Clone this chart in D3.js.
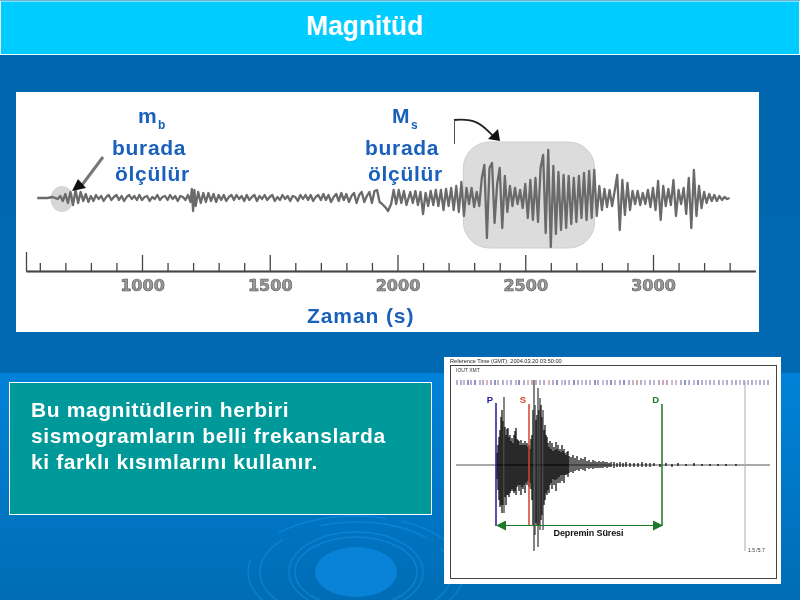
<!DOCTYPE html>
<html><head><meta charset="utf-8">
<script src="https://cdn.jsdelivr.net/npm/d3@7"></script>
<style>html,body{margin:0;padding:0;background:#0066aa}svg{display:block}</style>
</head><body><svg id="c" width="800" height="600"></svg>
<script>
// ---------- data ----------
const title = "Magnitüd";
const axisLabel = "Zaman (s)";
const majorTicks = [1000,1500,2000,2500,3000];
const minorTicks = [600,700,800,900,1100,1200,1300,1400,1600,1700,1800,1900,2100,2200,2300,2400,2600,2700,2800,2900,3100,3200,3300];
const traceTime = [590,610,630,650,670,680,690,700,710,720,
 730,740,750,760,770,780,790,800,810,820,830,840,850,860,870,
 880,890,900,910,920,930,940,950,960,970,980,990,1000,1010,1020,
 1030,1040,1050,1060,1070,1080,1090,1100,1110,1120,1130,1140,1150,1160,1170,
 1180,1190,1195,1200,1205,
 1210,1220,1230,1240,1250,1260,1270,1280,1290,1300,
 1310,1320,1330,1340,1350,1360,1370,1380,1390,1400,
 1410,1420,1430,1440,1450,1460,1470,1480,1490,1500,
 1510,1520,1530,1540,1550,1560,1570,1580,1590,1600,
 1610,1620,1630,1640,1650,1660,1670,1680,1690,1700,
 1710,1720,1730,1740,1750,1760,1770,1780,1790,1800,
 1810,1820,1830,1840,1850,1860,1870,1880,1890,1900,
 1910,1920,1930,1940,1955,1963,1975,1985,1995,2005,2015,2025,2035,
 2050,2060,2070,2080,2090,2100,2110,2120,2130,2140,
 2150,2160,2170,2180,2190,2200,2210,2220,2230,2240,
 2250,2260,2270,2280,2290,2300,2310,2320,2330,2340,
 2350,2360,2370,2380,2390,2400,2410,2420,2430,2440,
 2450,2460,2470,2480,2490,2500,2510,2520,2530,2540,
 2550,2560,2570,2580,2590,2600,2610,2620,2630,2640,
 2650,2660,2670,2680,2690,2700,2710,2720,2730,2740,
 2750,2760,2770,2780,2790,2800,2810,2820,2830,2840,
 2850,2860,2870,2880,2890,2900,2910,2920,2930,2940,
 2950,2960,2970,2980,2990,3000,3010,3020,3030,3040,
 3050,3060,3070,3080,3090,3100,3110,3120,3130,3140,
 3150,3160,3170,3180,3190,3200,3210,3220,3230,3240,
 3250,3260,3270,3280,3290,3300];
const traceAmp = [0,0,0,1,-1,2,-3,4,-5,6,
 -7,8,-5,6,-3,4,-4,2,-3,3,-1,2,-3,1,3,
 -2,1,3,-2,2,-3,1,3,-1,2,-2,3,-2,1,2,
 -3,1,-1,3,-2,1,2,-2,3,-1,2,-3,2,1,-2,
 3,-4,9,-13,8,
 -8,6,-5,5,-4,5,-3,4,-4,3,
 -2,3,-3,1,3,-2,3,-1,2,-3,
 3,-2,1,3,-3,2,-1,3,-2,1,
 3,-3,1,-2,3,-1,2,-3,2,1,
 -3,3,-1,3,-2,3,-3,1,3,-2,
 4,-2,3,-4,1,4,-3,5,-2,4,
 -4,2,5,-5,3,6,-4,2,6,-5,
 7,8,-4,-6,-10,-13,-6,8,-6,8,-5,7,-7,
 6,-5,7,-7,6,-16,5,-8,7,-7,
 8,-8,8,-12,9,-8,10,-12,12,-14,
 16,-18,10,-6,10,-9,6,-8,20,33,
 -40,30,35,-25,14,30,-30,22,-14,12,
 -8,10,-6,8,-10,14,-20,18,-22,20,
 -24,30,43,-35,48,-49,32,-36,26,-32,
 23,-30,22,-26,20,-24,22,-20,25,-22,
 27,-20,28,-18,12,-12,9,-9,8,-8,
 7,23,-32,18,-17,15,-12,7,-6,7,
 -7,5,-6,8,-9,10,-12,17,-22,12,
 -8,9,-7,18,-18,8,-6,10,-16,20,
 -30,28,-18,12,-10,6,-5,4,-3,3,
 -3,2,-2,1,-1,0];

const quakeOffset = [41,42,43,44,45,46,47,48,49,50,51,52,53,54,55,56,57,58,59,60,61,62,63,64,65,66,67,68,69,70,71,72,73,74,75,
 76,77,78,79,80,81,82,83,84,85,86,87,88,89,90,91,92,93,94,95,96,97,98,99,100,101,102,103,104,105,106,107,108,109,110,111,112,113,
 115,117,119,121,123,125,127,129,131,133,135,137,139,141,143,145,147,149,151,153,155,158,161,164,167,170,
 174,178,182,186,190,194,198,204,210,216,222,230,238,246,254,262,270,280,290,300];
const quakeHigh = [12,20,28,35,48,55,44,68,38,30,36,37,28,30,24,27,22,30,34,37,26,25,24,20,25,20,22,20,24,20,22,18,20,16,26,
 30,55,85,60,45,50,77,55,67,60,48,55,35,40,30,28,22,18,24,16,22,14,18,15,23,16,20,14,16,13,20,14,16,12,10,13,14,9,
 8,10,7,9,5,7,6,8,4,5,3,5,4,3,4,3,4,3,3,2,3,3,2,3,2,3,2,2,2,3,2,2,2,1,2,1,2,1,2,1,1,1,1,1];
const quakeLow = [14,25,35,42,40,48,40,48,32,40,30,30,32,28,26,24,26,28,26,30,22,20,26,20,30,22,24,20,28,18,20,16,22,18,24,
 35,60,86,70,58,60,82,60,65,55,50,65,40,35,28,30,25,28,20,18,24,14,20,15,26,14,18,12,18,10,16,10,18,10,10,9,12,8,
 7,8,6,5,6,4,5,6,3,4,3,4,3,3,3,3,3,2,3,2,2,3,2,2,2,2,2,2,2,2,2,2,1,2,1,2,1,1,1,1,1,1,1,1];
const stripOffset = [1,5,8,12,15,19,24,27,31,35,39,42,47,51,55,60,63,68,72,76,80,84,88,93,97,101,106,109,113,118,122,126,130,134,139,142,147,151,155,159,164,168,173,177,181,185,189,194,198,203,207,211,216,220,225,229,233,238,242,246,250,254,258,263,267,271,276,280,284,288,292,296,300,304,308,312];
const stripColor = ["#6a5aa8","#6a5aa8","#8a6a98","#23228a","#6a5aa8","#23228a","#8a6a98","#6a5aa8","#c86a6a","#6a5aa8","#23228a","#8a6a98","#6a5aa8","#8080b0","#6a5aa8","#8a6a98","#23228a","#6a5aa8","#8080b0","#c04a4a","#6a5aa8","#8a6a98","#6a5aa8","#c86a6a","#6a5aa8","#23228a","#8080b0","#6a5aa8","#8a6a98","#23228a","#6a5aa8","#8080b0","#6a5aa8","#8a6a98","#23228a","#6a5aa8","#8080b0","#6a5aa8","#23228a","#8a6a98","#6a5aa8","#23228a","#6a5aa8","#8a6a98","#c04040","#6a5aa8","#8080b0","#6a5aa8","#8a6a98","#6a5aa8","#c04a4a","#6a5aa8","#c86a6a","#8080b0","#6a5aa8","#23228a","#6a5aa8","#8a6a98","#23228a","#6a5aa8","#8080b0","#6a5aa8","#8a6a98","#6a5aa8","#8080b0","#6a5aa8","#8a6a98","#6a5aa8","#8080b0","#6a5aa8","#8a6a98","#6a5aa8","#8080b0","#6a5aa8","#8a6a98","#6a5aa8"];
const phaseNames = ["P","S","D"];
const phaseOffset = [40,73,206];
const phaseColor = ["#1a1a9c","#d2452a","#1a7a2a"];
const bodyLines = ["Bu magnitüdlerin herbiri","sismogramların belli frekanslarda","ki farklı kısımlarını kullanır."];
const ringRx = [41,61,67,96,108];
const ringRy = [25,35,40,50,56];

// ---------- layout ----------
const svg = d3.select("#c");
const defs = svg.append("defs");
const g1 = defs.append("linearGradient").attr("id","lower").attr("x1",0).attr("x2",0).attr("y1",0).attr("y2",1);
g1.append("stop").attr("offset",0).attr("stop-color","#0082d8");
g1.append("stop").attr("offset",1).attr("stop-color","#006db5");
const g2 = defs.append("linearGradient").attr("id","upper").attr("x1",0).attr("x2",0).attr("y1",0).attr("y2",1);
g2.append("stop").attr("offset",0).attr("stop-color","#0066ad");
g2.append("stop").attr("offset",1).attr("stop-color","#0069b1");
defs.append("filter").attr("id","soft2").append("feGaussianBlur").attr("stdDeviation",0.3);
defs.append("marker").attr("id","hd").attr("viewBox","0 0 10 10").attr("refX",9).attr("refY",5)
  .attr("markerWidth",14).attr("markerHeight",10).attr("markerUnits","userSpaceOnUse").attr("orient","auto-start-reverse")
  .append("path").attr("d","M0,0L10,5L0,10Z").attr("fill","#1a7a2a");

const sans = "'Liberation Sans',Arial,sans-serif";
svg.append("rect").attr("width",800).attr("height",374).attr("fill","url(#upper)");
svg.append("rect").attr("y",373).attr("width",800).attr("height",227).attr("fill","url(#lower)");

// ripples
const rip = svg.append("g").attr("transform","translate(356,572)");
rip.selectAll("ellipse").data(ringRx).join("ellipse")
  .attr("rx",d=>d).attr("ry",(d,i)=>ringRy[i])
  .attr("fill",(d,i)=>i==0?"#0a88de":"none")
  .attr("stroke","#1490e4").attr("stroke-width",(d,i)=>i==0?0:1.5).attr("opacity",(d,i)=>i==0?0.8:0.55)
  .attr("stroke-dasharray",(d,i)=>i>2?"110 16 150 40":null);

// header
svg.append("rect").attr("x",0.5).attr("y",1).attr("width",799).attr("height",53.5)
  .attr("fill","#00ccff").attr("stroke","#e8fbff");
svg.append("text").attr("x",306).attr("y",35).text(title)
  .attr("font-family",sans).attr("font-weight",700).attr("font-size",27)
  .attr("textLength",117).attr("lengthAdjust","spacingAndGlyphs").attr("fill","#fff");

// main panel
svg.append("rect").attr("x",16).attr("y",92).attr("width",743).attr("height",240).attr("fill","#fff");
const x = d3.scaleLinear().domain([546,3400]).range([26,755.2]);
const y = d3.scaleLinear().domain([-50,50]).range([248,148]);

const panel = svg.append("g").attr("filter","url(#soft2)");
panel.append("rect").attr("x",x(2250)+2).attr("y",142).attr("width",x(2760)-x(2250)+1).attr("height",106)
  .attr("rx",26).attr("fill","#dcdcdc").attr("stroke","#cfcfcf");
panel.append("ellipse").attr("cx",62).attr("cy",y(-1)).attr("rx",11.5).attr("ry",13).attr("fill","#d6d6d6");
panel.append("path").datum(traceAmp.map((a,i)=>[traceTime[i],a]))
  .attr("fill","none").attr("stroke","#6a6a6a").attr("stroke-width",2.3).attr("stroke-linejoin","round")
  .attr("d",d3.line().x(d=>x(d[0])).y(d=>y(d[1])));

// axis
const axisMajor = d3.axisBottom(x).tickValues(majorTicks).tickSizeInner(-16).tickSizeOuter(0).tickPadding(0).tickFormat(d3.format("d"));
const axisMinor = d3.axisBottom(x).tickValues(minorTicks).tickSizeInner(-8).tickSizeOuter(0).tickFormat("");
const aG = panel.append("g").attr("transform","translate(0,271)").call(axisMinor);
const bG = panel.append("g").attr("transform","translate(0,271)").call(axisMajor);
const aOrigin = d3.axisBottom(x).tickValues([546]).tickSizeInner(-19).tickSizeOuter(0).tickFormat("");
const oG = panel.append("g").attr("transform","translate(0,271)").call(aOrigin);
[aG,bG,oG].forEach(g=>{g.selectAll("path,line").attr("stroke","#444").attr("stroke-width",1.3);});
aG.select(".domain").attr("stroke","#666");
bG.selectAll("text").attr("y",20).attr("dy",0).attr("font-family","'DejaVu Sans',sans-serif").attr("font-weight",700)
  .attr("font-size",16).attr("fill","#999").attr("stroke","#555").attr("stroke-width",0.6);

// arrows
svg.append("line").attr("x1",103).attr("y1",157).attr("x2",82).attr("y2",185).attr("stroke","#777").attr("stroke-width",3);
svg.append("path").attr("d","M72,191L78,179L86,188Z").attr("fill","#111");
svg.append("path").attr("d","M454,120C475,118 482,124 494,137").attr("fill","none").attr("stroke","#222").attr("stroke-width",1.8);
svg.append("path").attr("d","M500,141L488,139L498,129Z").attr("fill","#111");
svg.append("line").attr("x1",454.5).attr("y1",120).attr("x2",454.5).attr("y2",144).attr("stroke","#555").attr("stroke-width",1);

// labels
const blue = "#1a60bd";
function lab(t,xx,yy,fs,ls){return svg.append("text").attr("x",xx).attr("y",yy).text(t).attr("font-family",sans)
  .attr("font-weight",700).attr("font-size",fs).attr("letter-spacing",ls||0).attr("fill",blue);}
lab("m",138,123,21); lab("b",158,129,12);
lab("M",392,123,21); lab("s",411,129,12);
lab("burada",112,155,21,0.7); lab("ölçülür",115,181,21,0.7);
lab("burada",365,155,21,0.7); lab("ölçülür",368,181,21,0.7);
lab(axisLabel,307,323,21,0.9);

// teal box
svg.append("rect").attr("x",9.5).attr("y",382.5).attr("width",422).attr("height",132).attr("fill","#009999").attr("stroke","#fff");
svg.selectAll("text.body").data(bodyLines).join("text").attr("class","body")
  .attr("x",31).attr("y",(d,i)=>417+i*26).text(d=>d).attr("font-family",sans)
  .attr("font-weight",700).attr("font-size",21).attr("letter-spacing",0.6).attr("fill","#fff");

// seismogram picture
svg.append("rect").attr("x",444).attr("y",357).attr("width",337).attr("height",227).attr("fill","#fff");
svg.append("rect").attr("x",450.5).attr("y",365.5).attr("width",326).attr("height",213).attr("fill","none").attr("stroke","#444");
const pic = svg.append("g").attr("filter","url(#soft2)");
const qx = d3.scaleLinear().domain([0,314]).range([456,770]);
const qy = d3.scaleLinear().domain([-90,90]).range([555,375]);
pic.append("text").attr("x",450).attr("y",363).text("Reference Time (GMT): 2004.03.20 03:50:00").attr("font-family",sans).attr("font-size",5.6).attr("fill","#222");
pic.append("text").attr("x",456).attr("y",372).text("IOUT XMT").attr("font-family",sans).attr("font-size",5).attr("fill","#333");
pic.append("text").attr("x",748).attr("y",552).text("1.5 /5.7").attr("font-family",sans).attr("font-size",5).attr("fill","#333");
pic.selectAll("line.s").data(stripOffset).join("line").attr("class","s")
  .attr("x1",d=>qx(d)).attr("x2",d=>qx(d)).attr("y1",380).attr("y2",385)
  .attr("stroke",(d,i)=>stripColor[i]).attr("stroke-width",1);
pic.append("line").attr("x1",qx(0)).attr("x2",qx(314)).attr("y1",qy(0)).attr("y2",qy(0)).attr("stroke","#555").attr("stroke-width",1.2);
pic.append("line").attr("x1",qx(289)).attr("x2",qx(289)).attr("y1",381).attr("y2",551).attr("stroke","#aaa");
pic.selectAll("line.q").data(quakeOffset).join("line").attr("class","q")
  .attr("x1",d=>qx(d)).attr("x2",d=>qx(d))
  .attr("y1",(d,i)=>qy(quakeHigh[i])).attr("y2",(d,i)=>qy(-quakeLow[i]))
  .attr("stroke",(d,i)=>(quakeHigh[i]>60||quakeLow[i]>60)?"#333":"#000").attr("stroke-width",1.2);
pic.selectAll("line.p").data(phaseOffset).join("line").attr("class","p")
  .attr("x1",d=>qx(d)).attr("x2",d=>qx(d)).attr("y1",(d,i)=>i==0?403:404).attr("y2",526)
  .attr("stroke",(d,i)=>phaseColor[i]).attr("stroke-width",1.5);
pic.selectAll("text.pn").data(phaseNames).join("text").attr("class","pn")
  .attr("x",(d,i)=>qx(phaseOffset[i])-3).attr("y",403).attr("text-anchor","end").text(d=>d)
  .attr("font-family",sans).attr("font-weight",700).attr("font-size",9.5).attr("fill",(d,i)=>phaseColor[i]);
pic.append("line").attr("x1",qx(phaseOffset[0])+1).attr("x2",qx(phaseOffset[2])).attr("y1",525.5).attr("y2",525.5)
  .attr("stroke","#1a7a2a").attr("stroke-width",1.2).attr("marker-start","url(#hd)").attr("marker-end","url(#hd)");
pic.append("text").attr("x",553.5).attr("y",536).text("Depremin Süresi").attr("font-family",sans).attr("font-weight",700)
  .attr("font-size",9).attr("textLength",70).attr("fill","#111");
</script></body></html>
